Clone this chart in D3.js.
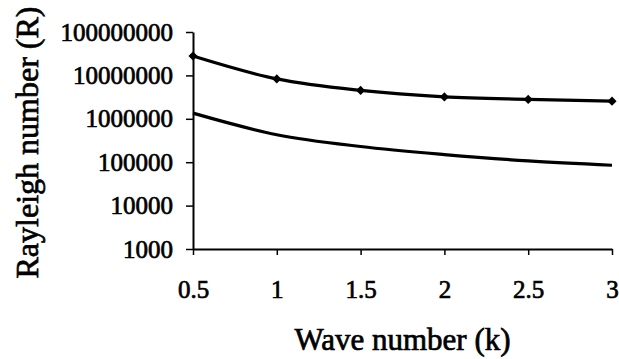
<!DOCTYPE html>
<html>
<head>
<meta charset="utf-8">
<script src="https://cdn.jsdelivr.net/npm/d3@7"></script>
<style>
  body { margin: 0; background: #fff; }
  svg { display: block; }
</style>
</head>
<body>
<div id="chart"></div>
<script>
// chart data
const waveNumbers = [0.5, 1, 1.5, 2, 2.5, 3];
const upperSeries = [2.8e7, 8.3e6, 4.5e6, 3.2e6, 2.8e6, 2.55e6];
const lowerSeries = [1.35e6, 4.3e5, 2.3e5, 1.5e5, 1.07e5, 8.5e4];
const xTicks = [0.5, 1, 1.5, 2, 2.5, 3];
const yTicks = [1e3, 1e4, 1e5, 1e6, 1e7, 1e8];

const FONT = "'Liberation Serif', 'Times New Roman', serif";

// layout
const W = 619, H = 359;
const MARGIN = { top: 32, right: 7, bottom: 110, left: 193 };
const WIDTH = W - MARGIN.left - MARGIN.right;
const HEIGHT = H - MARGIN.top - MARGIN.bottom;

const svg = d3.select("#chart").append("svg")
  .attr("width", W)
  .attr("height", H)
  .style("font-family", FONT);

const g = svg.append("g")
  .attr("transform", `translate(${MARGIN.left},${MARGIN.top})`);

const x = d3.scaleLinear().domain([0.5, 3]).range([0, WIDTH]);
const y = d3.scaleLog().domain([1e3, 1e8]).range([HEIGHT, 0]);

// X axis
const xAxis = g.append("g")
  .attr("transform", `translate(0,${HEIGHT})`)
  .call(d3.axisBottom(x).tickValues(xTicks).tickFormat(d3.format("")).tickSize(6).tickSizeOuter(0).tickPadding(25));
xAxis.attr("font-family", FONT).attr("font-size", 25);
xAxis.select(".domain").attr("stroke", "#000").attr("stroke-width", 2);
xAxis.selectAll(".tick line").attr("stroke", "#000").attr("stroke-width", 1.5);
xAxis.selectAll("text").attr("stroke", "#000").attr("stroke-width", 0.7);

// Y axis
const yAxis = g.append("g")
  .call(d3.axisLeft(y).tickValues(yTicks).tickFormat(d3.format("d")).tickSize(7).tickSizeOuter(0).tickPadding(13));
yAxis.attr("font-family", FONT).attr("font-size", 25);
yAxis.select(".domain").attr("stroke", "#000").attr("stroke-width", 2);
yAxis.selectAll(".tick line").attr("stroke", "#000").attr("stroke-width", 1.5);
yAxis.selectAll("text").attr("stroke", "#000").attr("stroke-width", 0.7);

// lines
const line = (vals) => d3.line()
  .x((d, i) => x(waveNumbers[i]))
  .y((d) => y(d))
  .curve(d3.curveMonotoneX)(vals);

g.append("path")
  .attr("d", line(upperSeries))
  .attr("fill", "none")
  .attr("stroke", "#000")
  .attr("stroke-width", 3.2);

g.append("path")
  .attr("d", line(lowerSeries))
  .attr("fill", "none")
  .attr("stroke", "#000")
  .attr("stroke-width", 3.2);

// diamond markers on upper series
g.selectAll(".marker")
  .data(upperSeries)
  .join("path")
  .attr("class", "marker")
  .attr("transform", (d, i) => `translate(${x(waveNumbers[i])},${y(d)}) rotate(45)`)
  .attr("d", d3.symbol().type(d3.symbolSquare).size(42))
  .attr("fill", "#000");

// axis titles
svg.append("text")
  .attr("x", MARGIN.left + WIDTH / 2)
  .attr("y", 350)
  .attr("text-anchor", "middle")
  .attr("font-family", FONT)
  .attr("font-size", 31)
  .attr("stroke", "#000").attr("stroke-width", 0.7)
  .text("Wave number (k)");

svg.append("text")
  .attr("transform", `translate(38,${MARGIN.top + HEIGHT / 2 + 2}) rotate(-90)`)
  .attr("text-anchor", "middle")
  .attr("font-family", FONT)
  .attr("font-size", 32)
  .attr("stroke", "#000").attr("stroke-width", 0.7)
  .text("Rayleigh number (R)");
</script>
</body>
</html>
